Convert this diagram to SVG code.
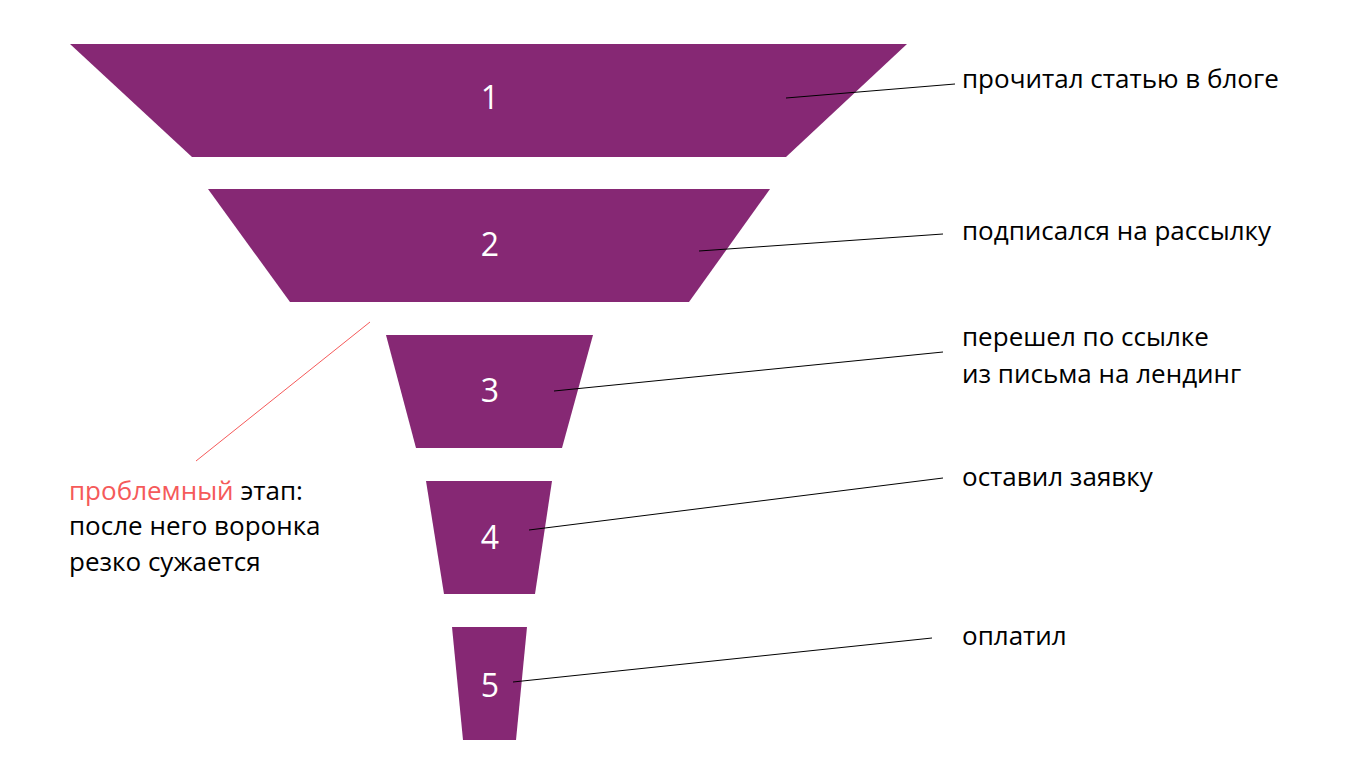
<svg xmlns="http://www.w3.org/2000/svg" width="1365" height="780" viewBox="0 0 1365 780">
<style>
.st{fill:#862874}
.num{fill:#fff;font-family:"Open Sans","Liberation Sans",sans-serif;font-size:32px;font-weight:400;text-anchor:middle}
.lbl{fill:#000;font-family:"Open Sans","Liberation Sans",sans-serif;font-size:26px}
.ln{stroke:#000;stroke-width:1;fill:none}
.red{stroke:#f55a5a;stroke-width:1;fill:none}
</style>
<rect width="1365" height="780" fill="#fff"/>
<g id="stage1"><polygon class="st" points="70,44 907,44 786,157 192,157"/><text class="num" x="490" y="109">1</text></g>
<g id="stage2"><polygon class="st" points="208,189 770,189 689,302 290,302"/><text class="num" x="490" y="256">2</text></g>
<g id="stage3"><polygon class="st" points="386,335 593,335 562,448 416,448"/><text class="num" x="490" y="402">3</text></g>
<g id="stage4"><polygon class="st" points="426,481 552,481 535,594 444,594"/><text class="num" x="490" y="549">4</text></g>
<g id="stage5"><polygon class="st" points="452,627 527,627 516,740 463,740"/><text class="num" x="490" y="697">5</text></g>
<g id="connectors">
<line class="ln" x1="786" y1="98" x2="955" y2="84"/>
<line class="ln" x1="699" y1="251" x2="943" y2="234"/>
<line class="ln" x1="554" y1="391" x2="943" y2="352"/>
<line class="ln" x1="529" y1="530" x2="943" y2="478"/>
<line class="ln" x1="513" y1="682" x2="932" y2="638"/>
<line class="red" x1="370" y1="322" x2="196" y2="461"/>
</g>
<g id="labels">
<text class="lbl" x="962" y="88">прочитал статью в блоге</text>
<text class="lbl" x="962" y="240">подписался на рассылку</text>
<text class="lbl" x="962" y="346">перешел по ссылке</text>
<text class="lbl" x="962" y="383">из письма на лендинг</text>
<text class="lbl" x="962" y="486">оставил заявку</text>
<text class="lbl" x="962" y="645">оплатил</text>
</g>
<g id="note">
<text class="lbl" x="69" y="500"><tspan fill="#f55a5a">проблемный</tspan> этап:</text>
<text class="lbl" x="69" y="535">после него воронка</text>
<text class="lbl" x="69" y="571">резко сужается</text>
</g>
</svg>
